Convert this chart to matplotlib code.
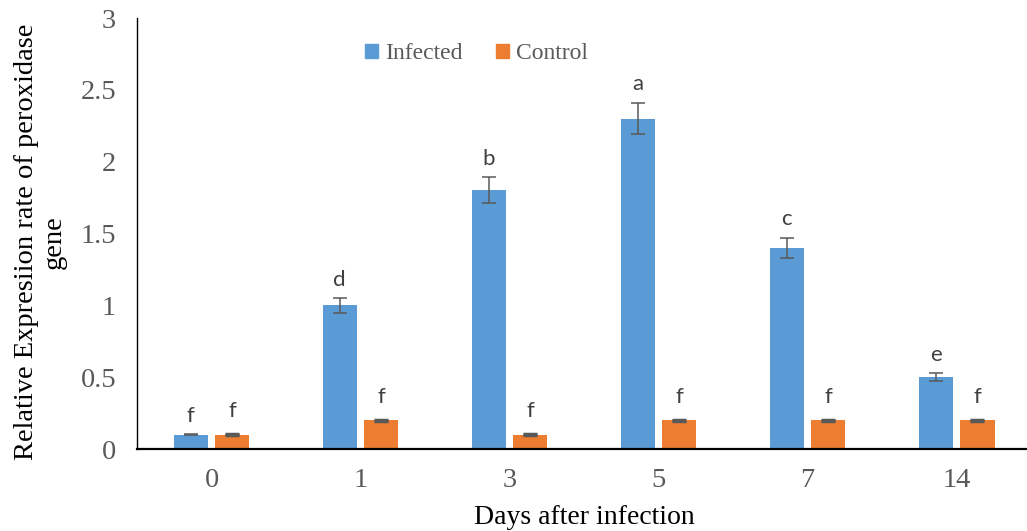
import numpy as np
import matplotlib.pyplot as plt
from matplotlib.patches import Patch

# expression data
days = ['0', '1', '3', '5', '7', '14']
infected = [0.1, 1.0, 1.8, 2.3, 1.4, 0.5]
infected_err = [0.005, 0.05, 0.09, 0.11, 0.07, 0.03]
control = [0.1, 0.2, 0.1, 0.2, 0.2, 0.2]
control_err = [0.005, 0.005, 0.005, 0.005, 0.005, 0.005]
infected_letters = ['f', 'd', 'b', 'a', 'c', 'e']
control_letters = ['f', 'f', 'f', 'f', 'f', 'f']

blue = '#5B9BD5'
orange = '#ED7D31'
grey = '#595959'

plt.rcParams['font.family'] = ['Liberation Serif', 'DejaVu Serif']

fig = plt.figure(figsize=(10.27, 5.31), dpi=100)
ax = fig.add_axes([0.1334, 0.1544, 0.8705, 0.8117])

x = np.arange(len(days))
w = 0.23
off = 0.14

ax.bar(x - off, infected, w, color=blue, yerr=infected_err, capsize=5,
       error_kw=dict(ecolor=grey, elinewidth=1.1, capthick=1.1))
ax.bar(x + off, control, w, color=orange, yerr=control_err, capsize=5,
       error_kw=dict(ecolor=grey, elinewidth=1.1, capthick=2.5))

for i in range(len(days)):
    ax.annotate(infected_letters[i], (x[i] - off, infected[i] + infected_err[i]),
                xytext=(0, 6), textcoords='offset points', ha='center', va='bottom',
                fontsize=16, color='#404040', family='Lato')
    ax.annotate(control_letters[i], (x[i] + off, control[i] + control_err[i]),
                xytext=(0, 9), textcoords='offset points', ha='center', va='bottom',
                fontsize=16, color='#404040', family='Lato')

ax.set_xlim(-0.5, len(days) - 0.5)
ax.set_ylim(0, 3)
ax.set_yticks(np.arange(0, 3.01, 0.5))
ax.set_yticklabels(['0', '0.5', '1', '1.5', '2', '2.5', '3'])
ax.set_xticks(x)
ax.set_xticklabels(days)
ax.tick_params(axis='both', length=0, labelsize=20.5, labelcolor=grey)
ax.tick_params(axis='y', pad=15)
ax.tick_params(axis='x', pad=14)

for s in ['top', 'right']:
    ax.spines[s].set_visible(False)
ax.spines['left'].set_linewidth(1.0)
ax.spines['bottom'].set_linewidth(1.6)

ax.set_xlabel('Days after infection', fontsize=20, labelpad=8)
ax.set_ylabel('Relative Expresiion rate of peroxidase\ngene', fontsize=20.5,
              linespacing=1.15)
ax.yaxis.set_label_coords(-0.079, 0.48)

handles = [Patch(color=blue, label='Infected'), Patch(color=orange, label='Control')]
fig.legend(handles=handles, loc='center', bbox_to_anchor=(0.464, 0.899), ncol=2,
           frameon=False, fontsize=17, handlelength=0.55, handleheight=0.55,
           handletextpad=0.3, columnspacing=1.4, labelcolor=grey)

fig.savefig('out.png', dpi=100)
